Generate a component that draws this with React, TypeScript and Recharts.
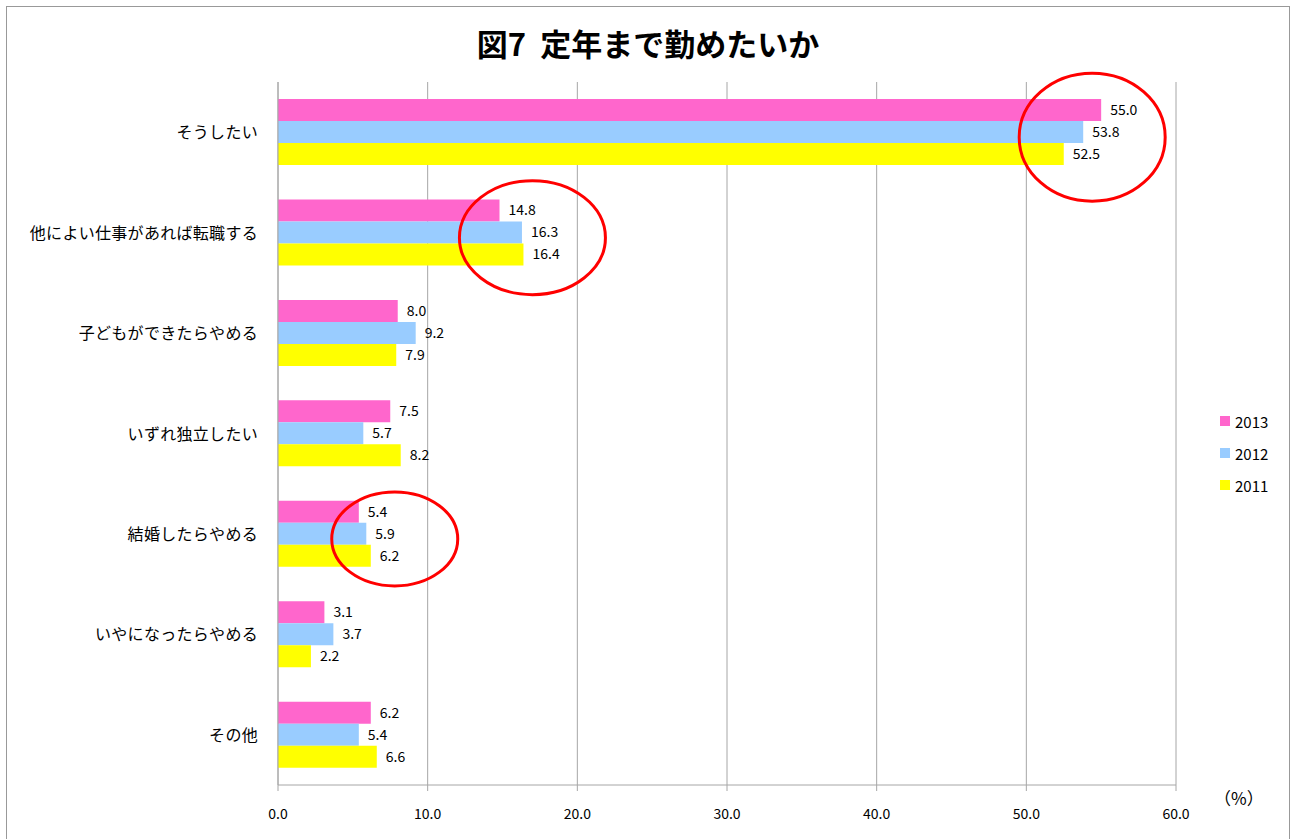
import {
  Bar,
  BarChart,
  CartesianGrid,
  LabelList,
  ReferenceDot,
  XAxis,
  YAxis,
} from "recharts";

const categories = [
  "そうしたい",
  "他によい仕事があれば転職する",
  "子どもができたらやめる",
  "いずれ独立したい",
  "結婚したらやめる",
  "いやになったらやめる",
  "その他",
];

const values2013 = [55.0, 14.8, 8.0, 7.5, 5.4, 3.1, 6.2];
const values2012 = [53.8, 16.3, 9.2, 5.7, 5.9, 3.7, 5.4];
const values2011 = [52.5, 16.4, 7.9, 8.2, 6.2, 2.2, 6.6];

const xTicks = [0, 10, 20, 30, 40, 50, 60];

// red circles drawn over the chart (centre value on the x axis, category)
const highlights = [
  { category: "そうしたい", x: 54.4, rx: 73, ry: 64 },
  { category: "他によい仕事があれば転職する", x: 17.0, rx: 73, ry: 57 },
  { category: "結婚したらやめる", x: 7.8, rx: 63, ry: 47 },
];

const series = [
  { key: "y2013", name: "2013", color: "#FF66CC" },
  { key: "y2012", name: "2012", color: "#99CCFF" },
  { key: "y2011", name: "2011", color: "#FFFF00" },
];

const data = categories.map((c, i) => ({
  category: c,
  y2013: values2013[i],
  y2012: values2012[i],
  y2011: values2011[i],
}));

const FONT = "'Noto Sans CJK JP', 'Noto Sans', sans-serif";
const GRID = "#a6a6a6";

function CategoryTick(props: any) {
  const { x, y, payload } = props;
  return (
    <text
      x={x}
      y={y}
      dy={6}
      textAnchor="end"
      fontSize={16}
      letterSpacing={0.3}
      fontFamily={FONT}
      fill="#000"
    >
      {payload.value}
    </text>
  );
}

function ValueTick(props: any) {
  const { x, y, payload } = props;
  return (
    <text
      x={x}
      y={y}
      dy={12}
      textAnchor="middle"
      fontSize={14}
      fontFamily={FONT}
      fill="#000"
    >
      {Number(payload.value).toFixed(1)}
    </text>
  );
}

function LegendBox() {
  return (
    <div
      style={{
        position: "absolute",
        left: 1220,
        top: 405,
        fontFamily: FONT,
        fontSize: 15,
        color: "#000",
      }}
    >
      {series.map((s) => (
        <div
          key={s.key}
          style={{ display: "flex", alignItems: "center", height: 32 }}
        >
          <span
            style={{
              display: "inline-block",
              width: 10,
              height: 10,
              background: s.color,
              marginRight: 5,
            }}
          />
          {s.name}
        </div>
      ))}
    </div>
  );
}

export default function App() {
  return (
    <div
      style={{
        position: "absolute",
        left: 0,
        top: 0,
        width: 1296,
        height: 839,
        background: "#fff",
        overflow: "hidden",
      }}
    >
      <div
        style={{
          position: "absolute",
          left: 6,
          top: 6,
          width: 1282,
          height: 850,
          border: "1px solid #999",
        }}
      />
      <div
        style={{
          position: "absolute",
          left: 0,
          top: 20,
          width: 1296,
          textAlign: "center",
          fontFamily: FONT,
          fontWeight: 700,
          fontSize: 31,
          color: "#000",
          whiteSpace: "pre",
        }}
      >
        図7  定年まで勤めたいか
      </div>
      <div
        style={{
          position: "absolute",
          left: 1214,
          top: 785,
          fontFamily: FONT,
          fontSize: 17,
          color: "#000",
        }}
      >
        （%）
      </div>
      <LegendBox />
      <BarChart
        width={1296}
        height={839}
        data={data}
        layout="vertical"
        margin={{ top: 82, right: 120, left: 8, bottom: 24 }}
        barCategoryGap="17%"
        barGap={0}
        style={{ position: "absolute", left: 0, top: 0 }}
      >
        <CartesianGrid horizontal={false} stroke={GRID} />
        <XAxis
          type="number"
          domain={[0, 60]}
          ticks={xTicks}
          stroke={GRID}
          tickSize={6}
          tickMargin={16}
          height={30}
          tick={<ValueTick />}
        />
        <YAxis
          yAxisId="bounds"
          type="number"
          domain={[0, 7]}
          ticks={[0, 1, 2, 3, 4, 5, 6, 7]}
          reversed
          width={0}
          axisLine={false}
          tickSize={5}
          tick={false}
          stroke="#888"
        />
        <YAxis
          type="category"
          dataKey="category"
          width={270}
          stroke={GRID}
          tickLine={false}
          tickMargin={14}
          tick={<CategoryTick />}
        />
        {series.map((s) => (
          <Bar
            key={s.key}
            dataKey={s.key}
            name={s.name}
            fill={s.color}
            isAnimationActive={false}
          >
            <LabelList
              dataKey={s.key}
              position="right"
              offset={9}
              fontSize={14}
              fontFamily={FONT}
              fill="#000"
              formatter={(v: any) => Number(v).toFixed(1)}
            />
          </Bar>
        ))}
        {highlights.map((h) => (
          <ReferenceDot
            key={h.category}
            x={h.x}
            y={h.category}
            r={1}
            ifOverflow="visible"
            shape={(p: any) => (
              <ellipse
                cx={p.cx}
                cy={p.cy + 5}
                rx={h.rx}
                ry={h.ry}
                fill="none"
                stroke="#FF0000"
                strokeWidth={3}
              />
            )}
          />
        ))}
      </BarChart>
    </div>
  );
}
